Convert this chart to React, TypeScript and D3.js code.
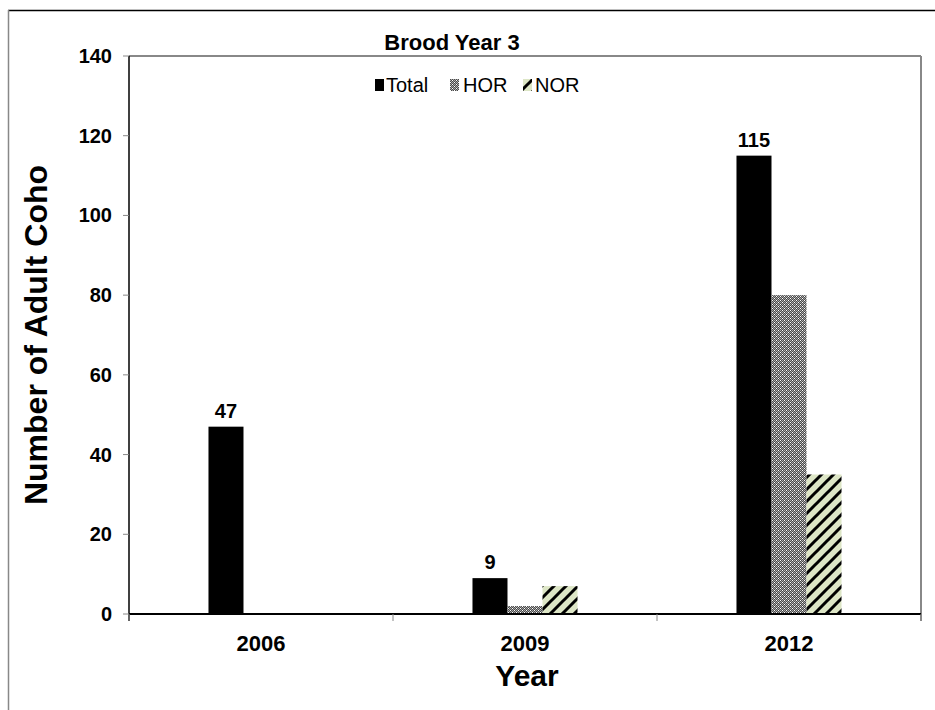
import React from "react";
import * as d3 from "d3";

// Adult coho counts by return year
const years = ["2006", "2009", "2012"];
const seriesNames = ["Total", "HOR", "NOR"];
const totalCounts = [47, 9, 115];
const horCounts = [0, 2, 80];
const norCounts = [0, 7, 35];
const yTicks = [0, 20, 40, 60, 80, 100, 120, 140];

const W = 935;
const H = 710;
const plot = { left: 129, top: 56, right: 921, bottom: 614 };
const FONT = "'Liberation Sans', Arial, sans-serif";

export default function App() {
  const x = d3.scaleBand<string>().domain(years).range([plot.left, plot.right]);
  const inner = d3
    .scaleBand<string>()
    .domain(seriesNames)
    .range([0, x.bandwidth()])
    .paddingOuter(2.27);
  const y = d3.scaleLinear().domain([0, 140]).range([plot.bottom, plot.top]);

  const values: Record<string, number[]> = {
    Total: totalCounts,
    HOR: horCounts,
    NOR: norCounts,
  };
  const fills: Record<string, string> = {
    Total: "#000",
    HOR: "url(#horPat)",
    NOR: "url(#norPat)",
  };

  const boundaries = [plot.left, ...years.map((yr) => (x(yr) as number) + x.bandwidth())];

  const legendItems = [
    { name: "Total", sx: 375, tx: 386 },
    { name: "HOR", sx: 450, tx: 463 },
    { name: "NOR", sx: 523, tx: 535 },
  ];

  return (
    <svg
      width={W}
      height={H}
      style={{ position: "absolute", left: 0, top: 0, background: "#fff" }}
      fontFamily={FONT}
    >
      <defs>
        <pattern id="horPat" width="4" height="4" patternUnits="userSpaceOnUse">
          <rect width="4" height="4" fill="#aaa" />
          <rect x="1" y="0" width="1" height="1" fill="#4a4a4a" />
          <rect x="3" y="0" width="1" height="1" fill="#4a4a4a" />
          <rect x="0" y="1" width="1" height="1" fill="#4a4a4a" />
          <rect x="2" y="1" width="1" height="1" fill="#4a4a4a" />
          <rect x="1" y="2" width="1" height="1" fill="#4a4a4a" />
          <rect x="3" y="2" width="1" height="1" fill="#4a4a4a" />
          <rect x="0" y="3" width="1" height="1" fill="#4a4a4a" />
          <rect x="2" y="3" width="1" height="1" fill="#4a4a4a" />
          <rect x="0" y="0" width="1" height="1" fill="#fff" />
          <rect x="2" y="2" width="1" height="1" fill="#fff" />
        </pattern>
        <pattern id="norPat" width="12" height="12" patternUnits="userSpaceOnUse">
          <rect width="12" height="12" fill="#dde6c6" />
          <path
            d="M-3,3 L3,-3 M0,12 L12,0 M9,15 L15,9"
            stroke="#000"
            strokeWidth={3}
          />
        </pattern>
      </defs>

      {/* outer chart frame */}
      <line x1={8} y1={10.5} x2={W} y2={10.5} stroke="#000" strokeWidth={1.5} />
      <line x1={8.5} y1={10} x2={8.5} y2={H} stroke="#888" strokeWidth={1.5} />

      {/* plot area border */}
      <line x1={plot.left} y1={plot.top} x2={plot.right} y2={plot.top} stroke="#888" strokeWidth={2} />
      <line x1={plot.right} y1={plot.top} x2={plot.right} y2={plot.bottom + 7} stroke="#888" strokeWidth={2} />

      {/* title */}
      <text x={452} y={50} textAnchor="middle" fontSize={22} fontWeight="bold">
        Brood Year 3
      </text>

      {/* legend */}
      {legendItems.map((it) => (
        <g key={it.name}>
          <rect x={it.sx} y={79} width={9} height={12} fill={fills[it.name]} />
          <text x={it.tx} y={92} fontSize={20}>
            {it.name}
          </text>
        </g>
      ))}

      {/* bars */}
      {seriesNames.map((s) =>
        years.map((yr, i) => {
          const v = values[s][i];
          if (!v) return null;
          const bx = (x(yr) as number) + (inner(s) as number);
          return (
            <rect
              key={s + yr}
              x={bx}
              y={y(v)}
              width={inner.bandwidth()}
              height={y(0) - y(v)}
              fill={fills[s]}
            />
          );
        })
      )}

      {/* value labels on totals */}
      {years.map((yr, i) => (
        <text
          key={"lbl" + yr}
          x={(x(yr) as number) + (inner("Total") as number) + inner.bandwidth() / 2}
          y={y(totalCounts[i]) - 9}
          textAnchor="middle"
          fontSize={20}
          fontWeight="bold"
        >
          {totalCounts[i]}
        </text>
      ))}

      {/* y axis */}
      <line x1={plot.left} y1={plot.top} x2={plot.left} y2={plot.bottom + 7} stroke="#000" strokeWidth={1.5} />
      {yTicks.map((t) => (
        <g key={"yt" + t}>
          <line x1={plot.left - 6} y1={y(t)} x2={plot.left} y2={y(t)} stroke="#888" strokeWidth={1} />
          <text x={112} y={y(t) + 7} textAnchor="end" fontSize={20} fontWeight="bold">
            {t}
          </text>
        </g>
      ))}

      {/* x axis */}
      <line x1={plot.left} y1={plot.bottom} x2={plot.right} y2={plot.bottom} stroke="#000" strokeWidth={2} />
      {boundaries.map((bx, i) => (
        <line key={"xt" + i} x1={bx} y1={plot.bottom} x2={bx} y2={plot.bottom + 7} stroke="#888" strokeWidth={1} />
      ))}
      {years.map((yr) => (
        <text
          key={"xl" + yr}
          x={(x(yr) as number) + x.bandwidth() / 2}
          y={651}
          textAnchor="middle"
          fontSize={22}
          fontWeight="bold"
        >
          {yr}
        </text>
      ))}

      {/* axis titles */}
      <text x={527} y={686} textAnchor="middle" fontSize={30} fontWeight="bold">
        Year
      </text>
      <text
        transform={`translate(47, ${(plot.top + plot.bottom) / 2}) rotate(-90)`}
        textAnchor="middle"
        fontSize={32}
        fontWeight="bold"
      >
        Number of Adult Coho
      </text>
    </svg>
  );
}
